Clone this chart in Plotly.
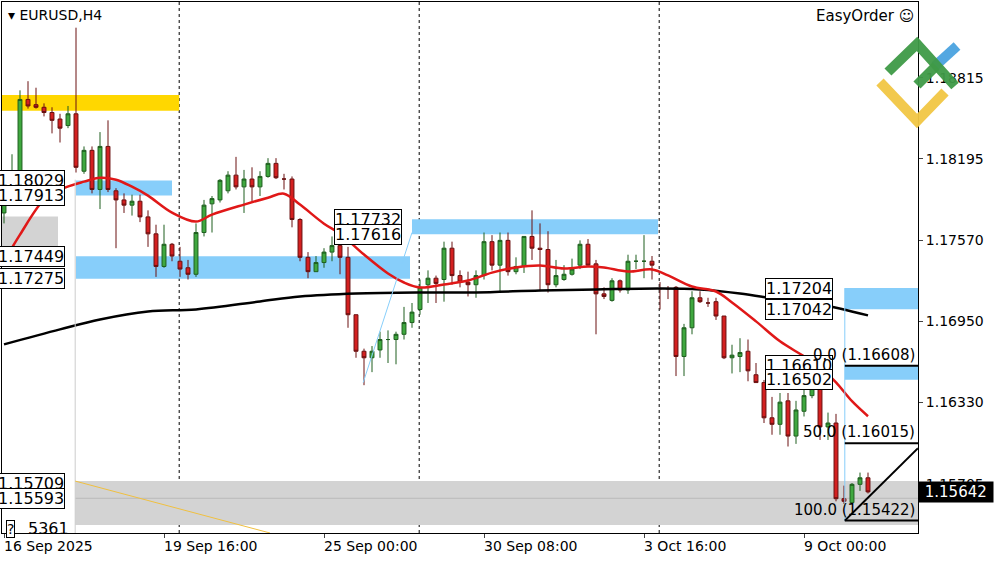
import plotly.graph_objects as go

# EURUSD H4 candles, bar index 0..108
opens = [1.1778, 1.1797, 1.1806, 1.1865, 1.1861, 1.1859, 1.1855, 1.1850, 1.1845, 1.1854,
         1.1810, 1.1826, 1.1796, 1.1829, 1.1795, 1.1788, 1.1784, 1.1787, 1.1775, 1.1762,
         1.1737, 1.1754, 1.1741, 1.1736, 1.1731, 1.1763, 1.1785, 1.1788, 1.1795, 1.1807,
         1.1798, 1.1804, 1.1798, 1.1806, 1.1816, 1.1804, 1.1804, 1.1773, 1.1744, 1.1733,
         1.1740, 1.1748, 1.1753, 1.1744, 1.1700, 1.1672, 1.1667, 1.1673, 1.1681, 1.1681,
         1.1685, 1.1694, 1.1704, 1.1723, 1.1728, 1.1727, 1.1751, 1.1730, 1.1725, 1.1723,
         1.1730, 1.1756, 1.1738, 1.1757, 1.1733, 1.1737, 1.1760, 1.1751, 1.1750, 1.1723,
         1.1727, 1.1731, 1.1738, 1.1754, 1.1739, 1.1716, 1.1711, 1.1726, 1.1719, 1.1741,
         1.1741, 1.1741, 1.1720, 1.1720, 1.1721, 1.1668, 1.1690, 1.1713, 1.1709, 1.1710,
         1.1699, 1.1667, 1.1668, 1.1672, 1.1654, 1.1648, 1.1621, 1.1616, 1.1634, 1.1607,
         1.1626, 1.1638, 1.1647, 1.1614, 1.1617, 1.1559, 1.1556, 1.1570, 1.1575]
highs = [1.1800, 1.1823, 1.1872, 1.1879, 1.1874, 1.1862, 1.1859, 1.1854, 1.1860, 1.1920,
         1.1829, 1.1829, 1.1840, 1.1849, 1.1797, 1.1793, 1.1792, 1.1792, 1.1780, 1.1769,
         1.1769, 1.1755, 1.1752, 1.1742, 1.1770, 1.1788, 1.1791, 1.1804, 1.1810, 1.1821,
         1.1811, 1.1813, 1.1810, 1.1820, 1.1820, 1.1808, 1.1806, 1.1774, 1.1748, 1.1745,
         1.1751, 1.1760, 1.1756, 1.1752, 1.1700, 1.1674, 1.1676, 1.1687, 1.1688, 1.1687,
         1.1706, 1.1709, 1.1727, 1.1734, 1.1730, 1.1756, 1.1756, 1.1734, 1.1733, 1.1734,
         1.1763, 1.1761, 1.1763, 1.1763, 1.1744, 1.1760, 1.1780, 1.1770, 1.1764, 1.1742,
         1.1738, 1.1743, 1.1757, 1.1758, 1.1742, 1.1721, 1.1728, 1.1727, 1.1746, 1.1746,
         1.1761, 1.1745, 1.1725, 1.1722, 1.1722, 1.1693, 1.1718, 1.1718, 1.1713, 1.1713,
         1.1699, 1.1677, 1.1682, 1.1681, 1.1663, 1.1650, 1.1637, 1.1640, 1.1640, 1.1634,
         1.1643, 1.1650, 1.1652, 1.1625, 1.1624, 1.1569, 1.1571, 1.1579, 1.1579]
lows = [1.1770, 1.1794, 1.1804, 1.1858, 1.1858, 1.1852, 1.1839, 1.1832, 1.1843, 1.1809,
        1.1808, 1.1793, 1.1781, 1.1794, 1.1751, 1.1778, 1.1776, 1.1771, 1.1752, 1.1729,
        1.1736, 1.1741, 1.1729, 1.1727, 1.1729, 1.1760, 1.1763, 1.1786, 1.1793, 1.1796,
        1.1778, 1.1787, 1.1791, 1.1805, 1.1804, 1.1796, 1.1767, 1.1741, 1.1728, 1.1733,
        1.1736, 1.1741, 1.1731, 1.1690, 1.1667, 1.1646, 1.1656, 1.1667, 1.1663, 1.1662,
        1.1681, 1.1690, 1.1700, 1.1709, 1.1709, 1.1710, 1.1723, 1.1721, 1.1714, 1.1713,
        1.1727, 1.1734, 1.1717, 1.1730, 1.1731, 1.1732, 1.1742, 1.1718, 1.1717, 1.1721,
        1.1726, 1.1730, 1.1735, 1.1737, 1.1685, 1.1712, 1.1710, 1.1717, 1.1716, 1.1735,
        1.1728, 1.1727, 1.1704, 1.1712, 1.1653, 1.1653, 1.1685, 1.1709, 1.1706, 1.1696,
        1.1666, 1.1655, 1.1656, 1.1649, 1.1648, 1.1617, 1.1608, 1.1608, 1.1599, 1.1601,
        1.1622, 1.1636, 1.1604, 1.1604, 1.1557, 1.1555, 1.1555, 1.1565, 1.1563]
closes = [1.1796, 1.1806, 1.1865, 1.1860, 1.1859, 1.1855, 1.1849, 1.1843, 1.1854, 1.1813,
          1.1826, 1.1796, 1.1829, 1.1796, 1.1788, 1.1784, 1.1787, 1.1775, 1.1762, 1.1737,
          1.1754, 1.1745, 1.1735, 1.1731, 1.1763, 1.1784, 1.1789, 1.1803, 1.1807, 1.1798,
          1.1804, 1.1798, 1.1806, 1.1816, 1.1805, 1.1804, 1.1773, 1.1744, 1.1733, 1.1740,
          1.1748, 1.1753, 1.1744, 1.1700, 1.1672, 1.1667, 1.1672, 1.1681, 1.1681, 1.1685,
          1.1694, 1.1702, 1.1721, 1.1728, 1.1724, 1.1751, 1.1730, 1.1725, 1.1723, 1.1730,
          1.1756, 1.1738, 1.1757, 1.1733, 1.1737, 1.1760, 1.1751, 1.1750, 1.1723, 1.1730,
          1.1731, 1.1735, 1.1754, 1.1738, 1.1716, 1.1714, 1.1726, 1.1719, 1.1741, 1.1741,
          1.1741, 1.1738, 1.1720, 1.1720, 1.1668, 1.1690, 1.1713, 1.1710, 1.1709, 1.1699,
          1.1667, 1.1669, 1.1671, 1.1657, 1.1648, 1.1621, 1.1616, 1.1633, 1.1607, 1.1627,
          1.1638, 1.1647, 1.1614, 1.1617, 1.1559, 1.1557, 1.1570, 1.1575, 1.15642]
bars = list(range(len(opens)))

# moving averages
ma_fast_x = [0, 2, 5, 7, 10, 12, 14, 16, 18, 21, 24, 26, 30, 33, 35, 37, 40, 42, 45, 48, 50, 52,
             55, 58, 61, 64, 67, 70, 73, 75, 78, 81, 83, 86, 89, 91, 94, 97, 100, 102, 104, 106, 108]
ma_fast_y = [1.17408, 1.17614, 1.17882, 1.17959, 1.18020, 1.18050, 1.18035, 1.17981, 1.17913,
             1.17783, 1.17714, 1.17767, 1.17844, 1.17897, 1.17928, 1.17844, 1.17698, 1.17622,
             1.17461, 1.17316, 1.17247, 1.17209, 1.17232, 1.17262, 1.17323, 1.17362, 1.17377,
             1.17354, 1.17369, 1.17362, 1.17331, 1.17347, 1.17301, 1.17216, 1.17178, 1.17094,
             1.16949, 1.16796, 1.16681, 1.16597, 1.16482, 1.16337, 1.16222]
ma_slow_x = [0, 7, 12, 18, 24, 32, 37, 44, 52, 59, 67, 74, 82, 87, 92, 97, 102, 108]
ma_slow_y = [1.16773, 1.16888, 1.16964, 1.17025, 1.17041, 1.17102, 1.17140, 1.17163, 1.17171,
             1.17171, 1.17186, 1.17194, 1.17201, 1.17194, 1.17163, 1.17117, 1.17079, 1.16995]

time_ticks = [0, 20, 40, 60, 80, 100]
time_labels = ["16 Sep 2025", "19 Sep 16:00", "25 Sep 00:00", "30 Sep 08:00", "3 Oct 16:00", "9 Oct 00:00"]
price_ticks = [1.18815, 1.18195, 1.17570, 1.16950, 1.16330, 1.15705]
separators = [21.9, 51.9, 81.9]

# zones: (x0, x1, top, bottom, colour)
zones = [(-0.25, 21.9, 1.18685, 1.18563, "#ffd700"),
         (9, 21, 1.18029, 1.17913, "#87cefa"),
         (-0.25, 6.75, 1.17752, 1.17408, "#d3d3d3"),
         (9, 50.75, 1.17449, 1.17275, "#87cefa"),
         (51, 81.75, 1.17732, 1.17616, "#87cefa"),
         (105.1, 115, 1.17204, 1.17042, "#87cefa"),
         (105.1, 115, 1.16610, 1.16502, "#87cefa"),
         (8.9, 115, 1.15725, 1.15388, "#d3d3d3")]
# level labels: (right edge bar, price)
level_labels = [(7.6, 1.18029), (7.6, 1.17913), (7.6, 1.17449), (7.6, 1.17275),
                (49.75, 1.17732), (49.75, 1.17616), (103.6, 1.17204), (103.6, 1.17042),
                (103.6, 1.16610), (103.6, 1.16502), (7.6, 1.15709), (7.6, 1.15593)]
fib_levels = [0.0, 50.0, 100.0]
fib_prices = [1.16608, 1.16015, 1.15422]
last_price = 1.15642

FONT = "DejaVu Sans"
fig = go.Figure()

for x0, x1, top, bot, col in zones:
    fig.add_shape(type="rect", x0=x0, x1=x1, y0=bot, y1=top, fillcolor=col,
                  line_width=0, layer="below")
fig.add_shape(type="line", x0=8.9, x1=115, y0=1.15593, y1=1.15593,
              line=dict(color="#bbbbbb", width=1), layer="below")
for s in separators:
    fig.add_shape(type="line", x0=s, x1=s, y0=0, y1=1, yref="paper",
                  line=dict(color="black", width=1, dash="dot"), layer="below")
fig.add_shape(type="line", x0=8.9, x1=8.9, y0=1.18035, y1=1.15, line=dict(color="#cccccc", width=1))
fig.add_shape(type="line", x0=8.9, x1=33.25, y0=1.15725, y1=1.15327, line=dict(color="#f0c040", width=1))
fig.add_shape(type="line", x0=44.9, x1=51, y0=1.1648, y1=1.1763, line=dict(color="#87cefa", width=1))
fig.add_shape(type="line", x0=105.1, x1=105.1, y0=1.17204, y1=fib_prices[2], line=dict(color="#87cefa", width=1))
for p in fib_prices:
    fig.add_shape(type="line", x0=105.1, x1=115, y0=p, y1=p, line=dict(color="black", width=2))
fig.add_shape(type="line", x0=105.1, x1=114.25, y0=fib_prices[2], y1=1.15977, line=dict(color="black", width=2))

fig.add_trace(go.Candlestick(
    x=bars, open=opens, high=highs, low=lows, close=closes, whiskerwidth=0,
    increasing=dict(fillcolor="#3fa83f", line=dict(color="#1f5f1f", width=1)),
    decreasing=dict(fillcolor="#d42020", line=dict(color="#6a1010", width=1)),
    showlegend=False, hoverinfo="skip"))
fig.add_trace(go.Scatter(x=ma_slow_x, y=ma_slow_y, mode="lines", line=dict(color="black", width=2.5, shape="spline"),
                         showlegend=False, hoverinfo="skip"))
fig.add_trace(go.Scatter(x=ma_fast_x, y=ma_fast_y, mode="lines", line=dict(color="#e01818", width=2.5, shape="spline"),
                         showlegend=False, hoverinfo="skip"))

for bx, p in level_labels:
    fig.add_annotation(x=bx, y=p, text="%.5f" % p, showarrow=False, xanchor="right", yanchor="middle",
                       font=dict(family=FONT, size=16, color="black"), bgcolor="white",
                       bordercolor="black", borderwidth=1, borderpad=0)
fig.add_annotation(x=2.8, y=1.15361, text="5361", showarrow=False, xanchor="left", yanchor="middle",
                   font=dict(family=FONT, size=16, color="black"))
fig.add_annotation(x=0.3, y=1.15361, text="?", showarrow=False, xanchor="left", yanchor="middle",
                   font=dict(family=FONT, size=14, color="black"), bgcolor="white",
                   bordercolor="black", borderwidth=1, borderpad=0)
for lv, p in zip(fib_levels, fib_prices):
    fig.add_annotation(x=114.1, y=p, text="%.1f (%.5f)" % (lv, p), showarrow=False, xanchor="right",
                       yanchor="bottom", font=dict(family=FONT, size=15, color="black"))
fig.add_annotation(x=1.0, xref="paper", y=last_price, text=" %.5f " % last_price, showarrow=False,
                   xanchor="left", yanchor="middle", font=dict(family=FONT, size=15, color="white"),
                   bgcolor="black", borderpad=1)
fig.add_annotation(x=0.004, y=0.995, xref="paper", yref="paper", text="▾ EURUSD,H4", showarrow=False,
                   xanchor="left", yanchor="top", font=dict(family=FONT, size=14, color="black"))
fig.add_annotation(x=0.998, y=0.995, xref="paper", yref="paper", text="EasyOrder ☺", showarrow=False,
                   xanchor="right", yanchor="top", font=dict(family=FONT, size=15, color="black"))
# time labels start at their tick, as in the terminal
for t, lab in zip(time_ticks, time_labels):
    fig.add_annotation(x=t, y=0, yref="paper", text=lab, showarrow=False, xanchor="left", yanchor="top",
                       xshift=-2, yshift=-3, font=dict(family=FONT, size=14, color="black"))


# logo (pixel positions in page converted to paper)
def px(x):
    return (x - 2) / 916


def py(y):
    return 1 - (y - 2) / 531


logo = [([(935, 66), (957, 46)], "#4aa3e0"),
        ([(880, 82), (917, 121), (945, 92)], "#f2c744"),
        ([(888, 72), (917, 44), (955, 86)], "#3f9a47"),
        ([(917, 85), (936, 66)], "#3f9a47")]
for pts, col in logo:
    path = "M " + " L ".join("%.4f,%.4f" % (px(a), py(b)) for a, b in pts)
    fig.add_shape(type="path", path=path, xref="paper", yref="paper",
                  line=dict(color=col, width=10), opacity=0.95)

fig.update_layout(
    width=1000, height=562, margin=dict(l=2, r=82, t=2, b=29),
    paper_bgcolor="white", plot_bgcolor="white",
    font=dict(family=FONT, size=14, color="black"),
    xaxis=dict(range=[-0.25, 114.25], tickvals=time_ticks, ticktext=[""] * len(time_ticks), ticks="outside",
               ticklen=4, showgrid=False, zeroline=False, rangeslider=dict(visible=False),
               showline=True, linecolor="black", mirror=True),
    yaxis=dict(range=[1.15327, 1.19397], side="right", tickvals=price_ticks,
               ticktext=["%.5f" % v for v in price_ticks], ticks="outside", ticklen=4,
               showgrid=False, zeroline=False, showline=True, linecolor="black", mirror=True,
               tickfont=dict(size=14)),
)
fig.write_html("out.html", config={"displayModeBar": False},
               post_script="document.body.style.margin='0';")
